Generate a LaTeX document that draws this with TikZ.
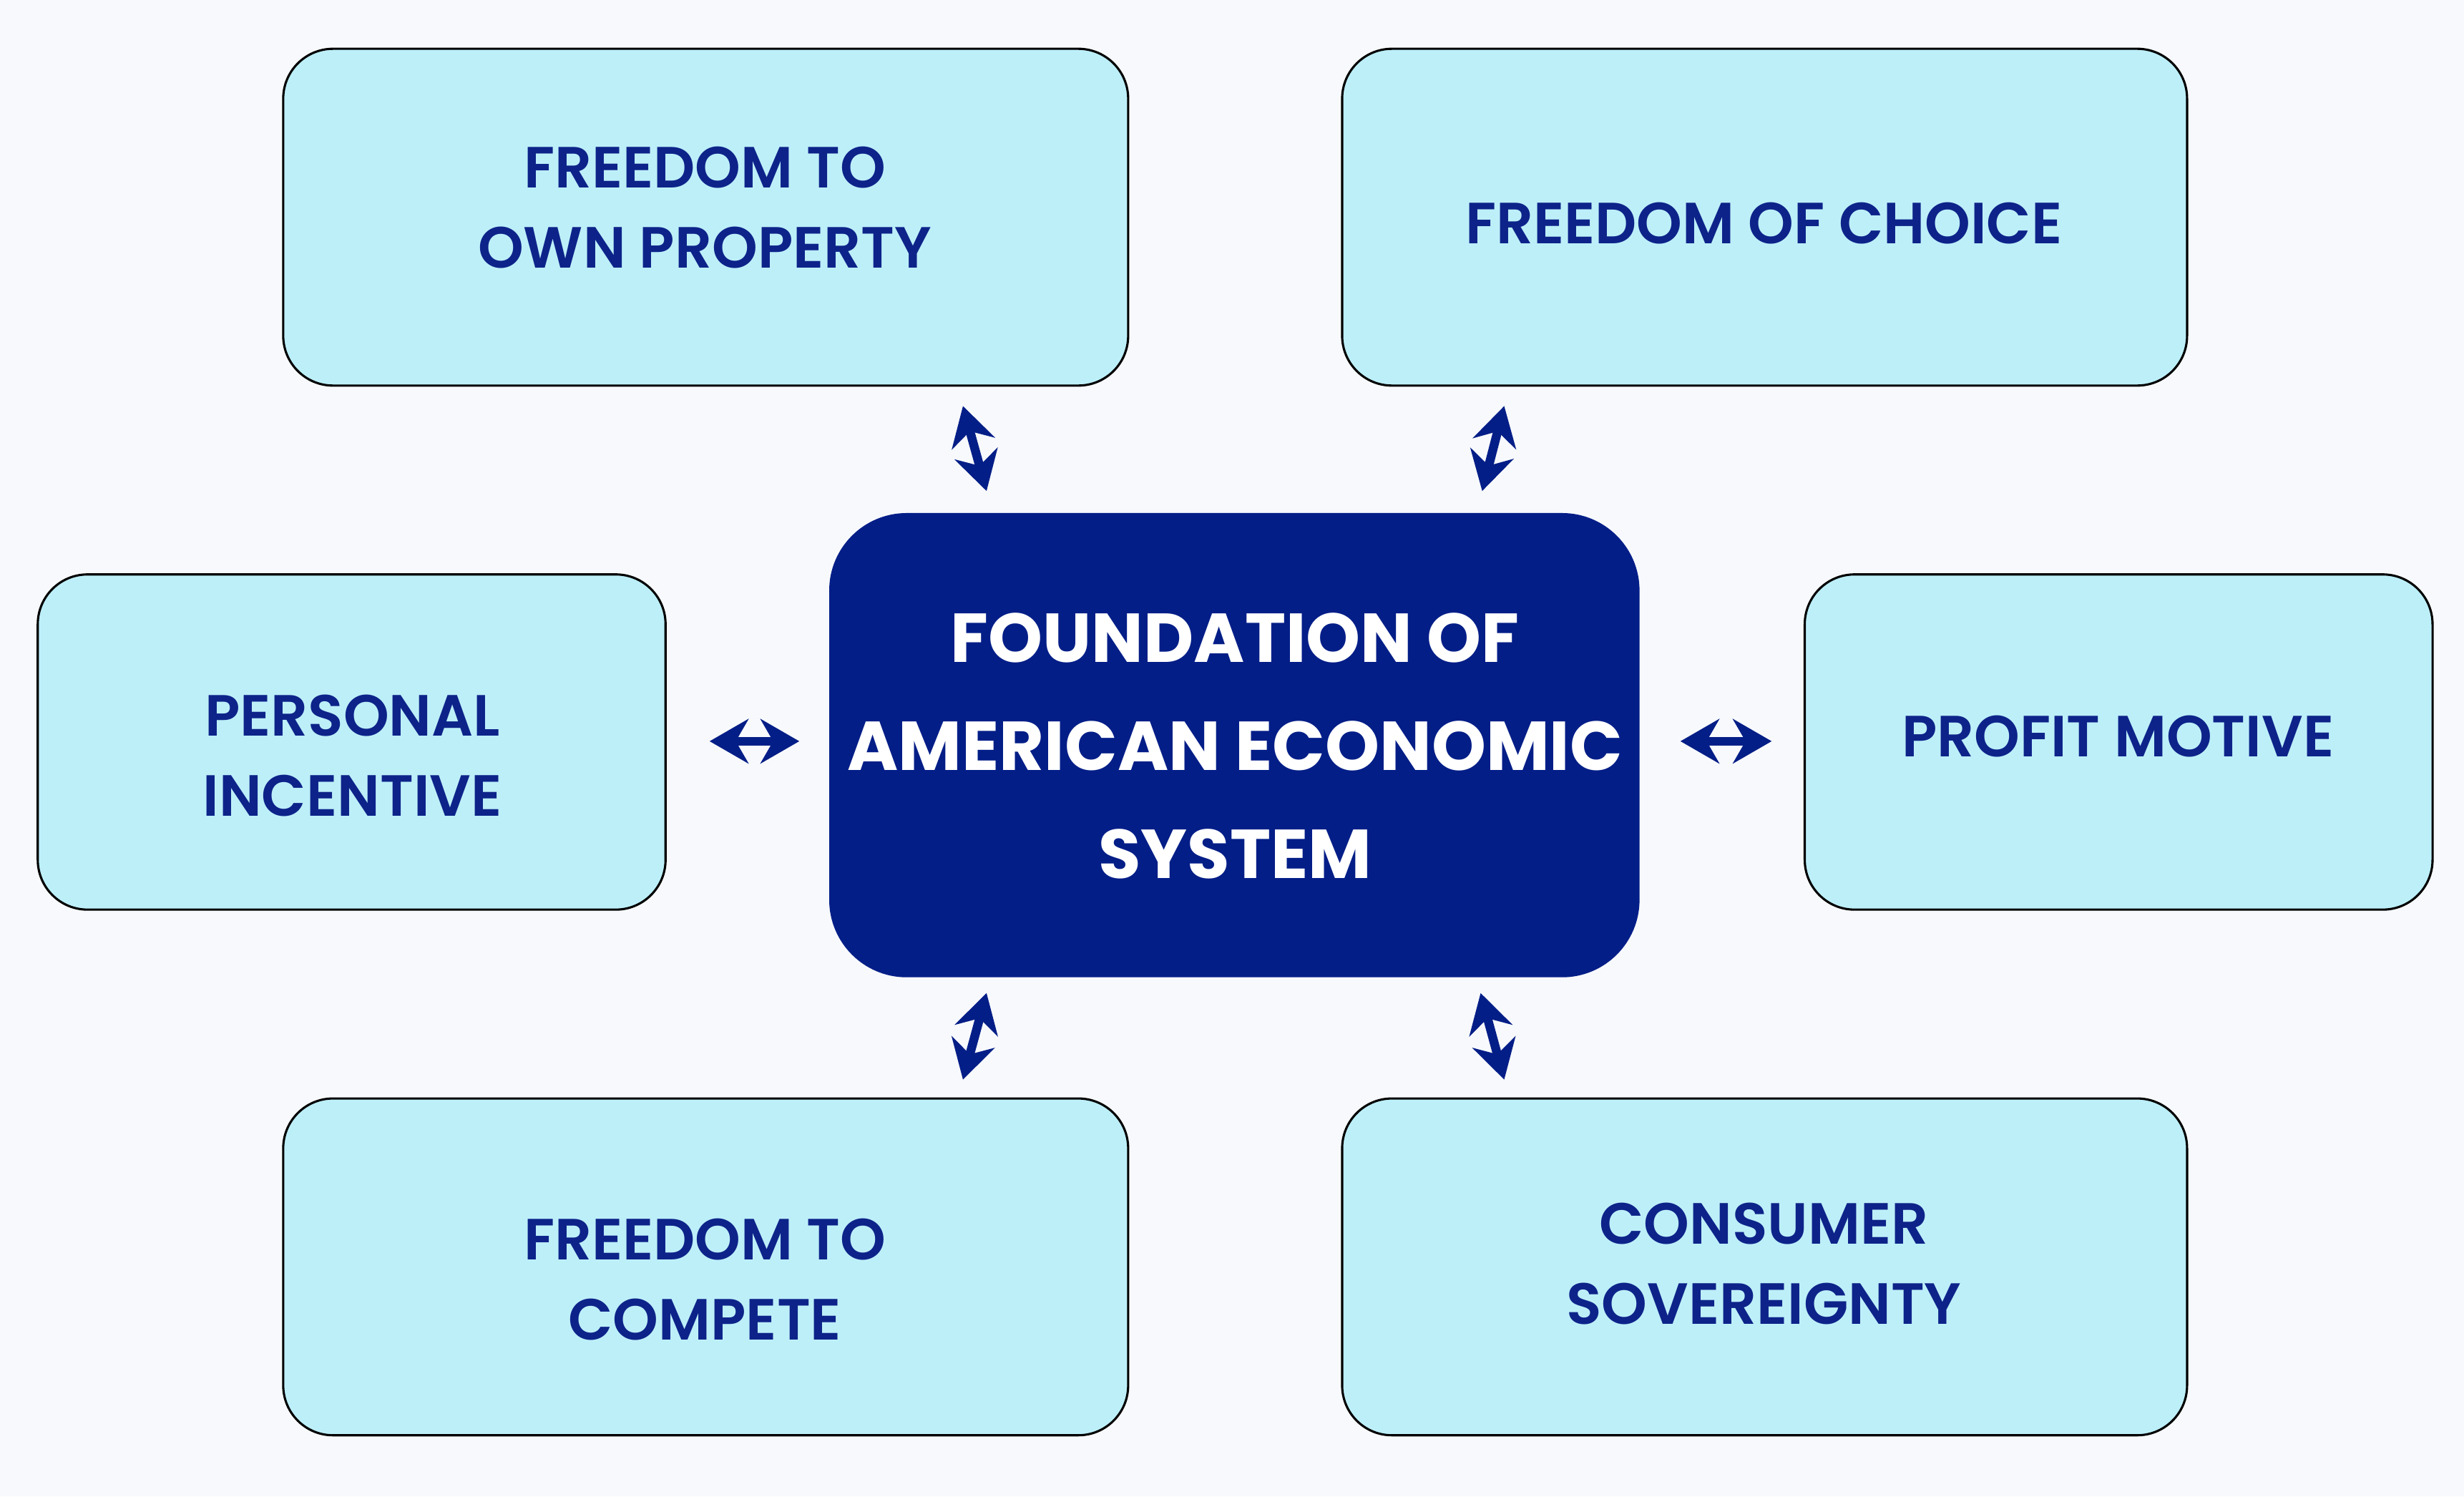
\documentclass[tikz,border=0pt]{standalone}
\usepackage{fontspec}
\setmainfont{Poppins}[UprightFont=* SemiBold,BoldFont=* Bold]
\usetikzlibrary{arrows.meta}
\definecolor{bg}{HTML}{F7F9FC}
\definecolor{lb}{HTML}{BDEFF9}
\definecolor{db}{HTML}{031E87}
\definecolor{tx}{HTML}{0D2389}
\tikzset{
 lbox/.style={fill=lb,rounded corners=9},
 ltext/.style={text=tx,font=\fontsize{10.5}{14.5}\selectfont,align=center},
 conn/.style={db,line width=1.6pt,{Stealth[length=7pt,width=8pt]}-{Stealth[length=7pt,width=8pt]}}
}
\begin{document}
\begin{tikzpicture}[x=0.01cm,y=-0.01cm]
\fill[bg] (0,0) rectangle (1566,951);
\filldraw[lbox] (180,31) rectangle (717,245);
\filldraw[lbox] (853,31) rectangle (1390,245);
\filldraw[lbox] (24,365) rectangle (423,578);
\filldraw[lbox] (1147,365) rectangle (1546,578);
\filldraw[lbox] (180,698) rectangle (717,912);
\filldraw[lbox] (853,698) rectangle (1390,912);
\fill[db,rounded corners=14] (527,326) rectangle (1042,621);
\node[ltext] (tl) at (448,132) {FREEDOM TO\\OWN PROPERTY};
\node[ltext] (tr) at (1121,142) {FREEDOM OF CHOICE};
\node[ltext] (l) at (224,480) {PERSONAL\\INCENTIVE};
\node[ltext] (r) at (1346,468) {PROFIT MOTIVE};
\node[ltext] (bl) at (448,813) {FREEDOM TO\\COMPETE};
\node[ltext] (br) at (1121,803) {CONSUMER\\SOVEREIGNTY};
\node[text=white,font=\fontsize{12.5}{19.5}\selectfont\bfseries,align=center] (c) at (785,474) {FOUNDATION OF\\AMERICAN ECONOMIC\\SYSTEM};
\coordinate (a1) at (627,312); \coordinate (a2) at (612,258);
\coordinate (b1) at (942,312); \coordinate (b2) at (956,258);
\coordinate (c1) at (451,471); \coordinate (c2) at (508,471);
\coordinate (d1) at (1068,471); \coordinate (d2) at (1126,471);
\coordinate (e1) at (612,686); \coordinate (e2) at (627,631);
\coordinate (f1) at (956,686); \coordinate (f2) at (941,631);
\draw[conn] (a1)--(a2);
\draw[conn] (b1)--(b2);
\draw[conn] (c1)--(c2);
\draw[conn] (d1)--(d2);
\draw[conn] (e1)--(e2);
\draw[conn] (f1)--(f2);
\end{tikzpicture}
\end{document}
